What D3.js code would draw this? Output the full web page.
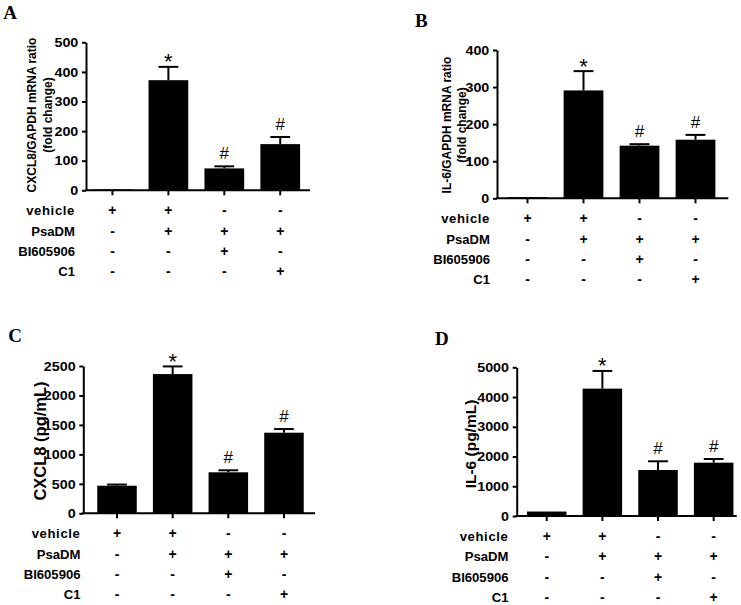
<!DOCTYPE html>
<html>
<head>
<meta charset="utf-8">
<script src="https://cdn.jsdelivr.net/npm/d3@7"></script>
<style>
  html, body { margin: 0; padding: 0; background: #fff; }
  svg { display: block; }
</style>
</head>
<body>
<svg id="chart" width="741" height="605"></svg>
<script>
// ---------------- DATA ----------------
const groupIds = ["G1", "G2", "G3", "G4"];
const rowLabels = ["vehicle", "PsaDM", "BI605906", "C1"];
const vehicleRow = ["+", "+", "-", "-"];
const psadmRow = ["-", "+", "+", "+"];
const bi605906Row = ["-", "-", "+", "-"];
const c1Row = ["-", "-", "-", "+"];
const sigMarks = ["", "*", "#", "#"];

const cxcl8MrnaMean = [3, 372, 74, 156];
const cxcl8MrnaErr = [0, 45, 7, 24];
const il6MrnaMean = [3, 291, 142, 158];
const il6MrnaErr = [0, 52, 4, 13];
const cxcl8ProteinMean = [468, 2363, 696, 1368];
const cxcl8ProteinErr = [20, 130, 34, 62];
const il6ProteinMean = [150, 4283, 1547, 1793];
const il6ProteinErr = [0, 594, 293, 124];

const ticksA = [0, 100, 200, 300, 400, 500];
const ticksB = [0, 100, 200, 300, 400];
const ticksC = [0, 500, 1000, 1500, 2000, 2500];
const ticksD = [0, 1000, 2000, 3000, 4000, 5000];

const panelLetters = ["A", "B", "C", "D"];
const yLabelsA = ["CXCL8/GAPDH mRNA ratio", "(fold change)"];
const yLabelsB = ["IL-6/GAPDH mRNA ratio", "(fold change)"];
const yLabelsC = ["CXCL8 (pg/mL)"];
const yLabelsD = ["IL-6 (pg/mL)"];

const tableRows = [vehicleRow, psadmRow, bi605906Row, c1Row];

// ---------------- LAYOUT ----------------
const svg = d3.select("#chart");
const FONT = "'Liberation Sans', Arial, Helvetica, sans-serif";
const SERIF = "'Liberation Serif', 'Times New Roman', serif";

const panels = [
  { letter: panelLetters[0], lx: 3.3, ly: 19.3, mean: cxcl8MrnaMean, err: cxcl8MrnaErr, ticks: ticksA,
    axisX: 86, y0: 190.3, yTop: 42.3, bandStart: 84.5, bandEnd: 308.2, xEnd: 310,
    labelRight: 75, yLabel: yLabelsA, ylx: 40, yly: 115, ylSize: 12, ylGap: 16.3 },
  { letter: panelLetters[1], lx: 415, ly: 26.7, mean: il6MrnaMean, err: il6MrnaErr, ticks: ticksB,
    axisX: 497, y0: 198.3, yTop: 50, bandStart: 499.5, bandEnd: 723.5, xEnd: 728.3,
    labelRight: 490, yLabel: yLabelsB, ylx: 454, yly: 125, ylSize: 12, ylGap: 15 },
  { letter: panelLetters[2], lx: 8.3, ly: 341.7, mean: cxcl8ProteinMean, err: cxcl8ProteinErr, ticks: ticksC,
    axisX: 83.3, y0: 513.3, yTop: 366, bandStart: 89.2, bandEnd: 311.8, xEnd: 315,
    labelRight: 80.5, yLabel: yLabelsC, ylx: 40, yly: 441, ylSize: 16.5, ylGap: 0 },
  { letter: panelLetters[3], lx: 435, ly: 345, mean: il6ProteinMean, err: il6ProteinErr, ticks: ticksD,
    axisX: 516.7, y0: 516, yTop: 367.3, bandStart: 518.9, bandEnd: 741.5, xEnd: 736.7,
    labelRight: 508.5, yLabel: yLabelsD, ylx: 470, yly: 444, ylSize: 15.5, ylGap: 0 }
];

function drawPanel(cfg) {
  const g = svg.append("g");
  const maxV = cfg.ticks[cfg.ticks.length - 1];
  const y = d3.scaleLinear().domain([0, maxV]).range([cfg.y0, cfg.yTop]);
  const x = d3.scaleBand().domain(groupIds).range([cfg.bandStart, cfg.bandEnd])
    .paddingInner(0.29).paddingOuter(0.145);
  const bw = x.bandwidth();
  const rows = groupIds.map((id, i) => ({ id, mean: cfg.mean[i], err: cfg.err[i], mark: sigMarks[i] }));

  // bars
  g.selectAll("rect.bar").data(rows).join("rect")
    .attr("class", "bar")
    .attr("x", d => x(d.id))
    .attr("y", d => y(d.mean))
    .attr("width", bw)
    .attr("height", d => cfg.y0 - y(d.mean))
    .attr("fill", "#000");

  // error bars (upper only)
  const eb = rows.filter(d => d.err > 0);
  g.selectAll("line.errv").data(eb).join("line")
    .attr("x1", d => x(d.id) + bw / 2).attr("x2", d => x(d.id) + bw / 2)
    .attr("y1", d => y(d.mean)).attr("y2", d => y(d.mean + d.err))
    .attr("stroke", "#000").attr("stroke-width", 2);
  g.selectAll("line.errc").data(eb).join("line")
    .attr("x1", d => x(d.id) + bw / 2 - bw * 0.25).attr("x2", d => x(d.id) + bw / 2 + bw * 0.25)
    .attr("y1", d => y(d.mean + d.err)).attr("y2", d => y(d.mean + d.err))
    .attr("stroke", "#000").attr("stroke-width", 2);

  // significance marks
  rows.filter(d => d.mark).forEach(d => {
    const top = y(d.mean + d.err);
    const isStar = d.mark === "*";
    g.append("text")
      .attr("x", x(d.id) + bw / 2)
      .attr("y", isStar ? top + 2.5 : top - 7)
      .attr("text-anchor", "middle")
      .attr("font-family", FONT)
      .attr("font-size", isStar ? 22 : 17)
      .attr("fill", "#000")
      .text(d.mark);
  });

  // y axis
  const ya = g.append("g")
    .attr("transform", `translate(${cfg.axisX},0)`)
    .call(d3.axisLeft(y).tickValues(cfg.ticks).tickFormat(d3.format("d"))
      .tickSize(4).tickPadding(3).tickSizeOuter(0));
  ya.select(".domain").attr("stroke", "#000").attr("stroke-width", 2);
  ya.selectAll(".tick line").attr("stroke", "#000").attr("stroke-width", 2);
  ya.selectAll(".tick text")
    .attr("font-family", FONT).attr("font-size", 13).attr("font-weight", "bold")
    .attr("fill", "#000")
    .attr("transform", "scale(1.1,1)");

  // x axis
  g.append("line")
    .attr("x1", cfg.axisX - 1).attr("x2", cfg.xEnd)
    .attr("y1", cfg.y0).attr("y2", cfg.y0)
    .attr("stroke", "#000").attr("stroke-width", 2);
  g.selectAll("line.xt").data(rows).join("line")
    .attr("x1", d => x(d.id) + bw / 2).attr("x2", d => x(d.id) + bw / 2)
    .attr("y1", cfg.y0).attr("y2", cfg.y0 + 5)
    .attr("stroke", "#000").attr("stroke-width", 2);

  // treatment table
  rowLabels.forEach((lab, r) => {
    const cy = cfg.y0 + 20.6 + r * 20.3;
    g.append("text")
      .attr("transform", `translate(${cfg.labelRight},${cy + 4.5}) scale(1.05,1)`)
      .attr("text-anchor", "end")
      .attr("font-family", FONT).attr("font-size", 12.5).attr("font-weight", "bold")
      .attr("letter-spacing", lab === "vehicle" ? 0.6 : 0)
      .attr("fill", "#000")
      .text(lab);
    tableRows[r].forEach((s, i) => {
      g.append("text")
        .attr("x", x(groupIds[i]) + bw / 2)
        .attr("y", cy + 4.5)
        .attr("text-anchor", "middle")
        .attr("font-family", FONT).attr("font-size", 14).attr("font-weight", "bold")
        .attr("fill", "#000")
        .text(s);
    });
  });

  // y label
  const yl = g.append("text")
    .attr("transform", `translate(${cfg.ylx},${cfg.yly}) rotate(-90)`)
    .attr("text-anchor", "middle")
    .attr("font-family", FONT).attr("font-size", cfg.ylSize).attr("font-weight", "bold")
    .attr("fill", "#000");
  const n = cfg.yLabel.length;
  cfg.yLabel.forEach((t, i) => {
    const off = (i - (n - 1) / 2) * cfg.ylGap + 0.36 * cfg.ylSize;
    yl.append("tspan").attr("x", 0).attr("y", off).text(t);
  });

  // panel letter
  g.append("text")
    .attr("x", cfg.lx).attr("y", cfg.ly)
    .attr("font-family", SERIF).attr("font-size", 19).attr("font-weight", "bold")
    .attr("fill", "#000")
    .text(cfg.letter);
}

panels.forEach(drawPanel);
</script>
</body>
</html>
